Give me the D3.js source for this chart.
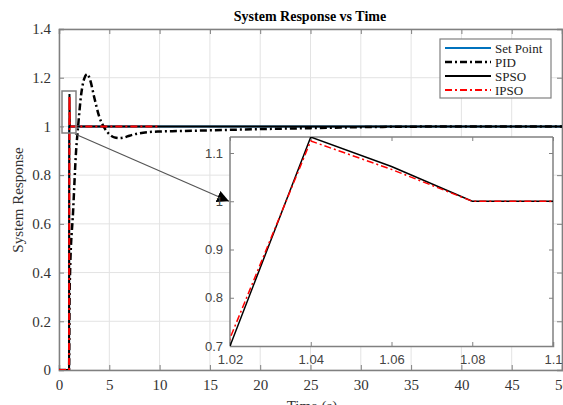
<!doctype html>
<html>
<head>
<meta charset="utf-8">
<script src="https://cdn.jsdelivr.net/npm/d3@7"></script>
<style>
  body { margin: 0; background: #fff; }
  svg { display: block; }
</style>
</head>
<body>
<svg id="chart" width="563" height="405"></svg>
<script>
// ---- data ----
var xTicks = [0, 5, 10, 15, 20, 25, 30, 35, 40, 45, 50];
var yTicks = [0, 0.2, 0.4, 0.6, 0.8, 1, 1.2, 1.4];
var insetXTicks = [1.02, 1.04, 1.06, 1.08, 1.1];
var insetYTicks = [0.7, 0.8, 0.9, 1, 1.1];

var setTime = [0, 1, 1, 50];
var setVal  = [0, 0, 1, 1];

var pidTime = [0, 1, 1.05, 1.1, 1.4, 1.7, 1.9, 2.2, 2.5, 2.8, 3.1, 3.5, 4.0, 4.5, 5.0, 5.5, 6.0, 6.5, 7.0, 8.0, 9.0, 10, 12, 15, 20, 25, 30, 35, 40, 50];
var pidVal  = [0, 0, 0.3, 0.4, 0.65, 0.9, 1.0, 1.13, 1.195, 1.215, 1.19, 1.12, 1.04, 0.995, 0.968, 0.955, 0.952, 0.955, 0.962, 0.972, 0.977, 0.979, 0.981, 0.984, 0.989, 0.993, 0.997, 0.999, 1.0, 1.0];

var spsoTime = [0, 1.0, 1.02, 1.04, 1.06, 1.08, 1.1, 50];
var spsoVal  = [0, 0, 0.7, 1.133, 1.072, 1.0, 1.0, 1.0];

var ipsoTime = [0, 1.0, 1.02, 1.04, 1.06, 1.08, 1.1, 10];
var ipsoVal  = [0, 0, 0.716, 1.125, 1.066, 1.0, 1.0, 1.0];

var legendNames = ["Set Point", "PID", "SPSO", "IPSO"];

function pairs(t, v) { return t.map(function(d, i) { return [d, v[i]]; }); }

var series = [
  { name: "Set Point", data: pairs(setTime, setVal), color: "#0072bd", dash: null, width: 2 },
  { name: "PID", data: pairs(pidTime, pidVal), color: "#000", dash: "7,3,2,3", width: 2.5, smooth: true },
  { name: "SPSO", data: pairs(spsoTime, spsoVal), color: "#000", dash: null, width: 2 },
  { name: "IPSO", data: pairs(ipsoTime, ipsoVal), color: "#ff0000", dash: "7,3,2,3", width: 2 }
];

var svg = d3.select("#chart");
var serif = "'Liberation Serif', 'Times New Roman', serif";
var sans = "'Liberation Sans', Arial, sans-serif";
var axisCol = "#808080";
var gridCol = "#e3e3e3";

// main axes box
var mLeft = 59, mRight = 562, mTop = 29, mBottom = 370;
var x = d3.scaleLinear().domain([0, 50]).range([mLeft, mRight]);
var y = d3.scaleLinear().domain([0, 1.4]).range([mBottom, mTop]);

svg.append("rect").attr("x", mLeft).attr("y", mTop)
   .attr("width", mRight - mLeft).attr("height", mBottom - mTop).attr("fill", "#fff");

// grid
svg.append("g").selectAll("line").data(xTicks).enter().append("line")
   .attr("x1", function(d) { return x(d); }).attr("x2", function(d) { return x(d); })
   .attr("y1", mTop).attr("y2", mBottom).attr("stroke", gridCol).attr("stroke-width", 1);
svg.append("g").selectAll("line").data(yTicks).enter().append("line")
   .attr("y1", function(d) { return y(d); }).attr("y2", function(d) { return y(d); })
   .attr("x1", mLeft).attr("x2", mRight).attr("stroke", gridCol).attr("stroke-width", 1);

// axes (ticks inward)
var xAxisB = d3.axisBottom(x).tickValues(xTicks).tickSize(-5).tickPadding(9).tickFormat(d3.format("d"));
var yAxisL = d3.axisLeft(y).tickValues(yTicks).tickSize(-5).tickPadding(8).tickFormat(function(d) { return String(+d.toFixed(1)); });

var gx = svg.append("g").attr("transform", "translate(0," + mBottom + ")").call(xAxisB);
var gy = svg.append("g").attr("transform", "translate(" + mLeft + ",0)").call(yAxisL);
svg.append("g").attr("transform", "translate(0," + mTop + ")")
   .call(d3.axisTop(x).tickValues(xTicks).tickSize(-5).tickFormat(""));
svg.append("g").attr("transform", "translate(" + mRight + ",0)")
   .call(d3.axisRight(y).tickValues(yTicks).tickSize(-5).tickFormat(""));

svg.selectAll(".domain").attr("stroke", axisCol).attr("stroke-width", 1.5);
svg.selectAll(".tick line").attr("stroke", axisCol);
[gx, gy].forEach(function(g) {
  g.selectAll("text").attr("font-family", serif).attr("font-size", 15).attr("fill", "#333");
});

// clip for main plot
svg.append("clipPath").attr("id", "mainClip").append("rect")
   .attr("x", mLeft).attr("y", mTop).attr("width", mRight - mLeft).attr("height", mBottom - mTop);

var line = d3.line().x(function(d) { return x(d[0]); }).y(function(d) { return y(d[1]); });
var lineSmooth = d3.line().curve(d3.curveMonotoneX).x(function(d) { return x(d[0]); }).y(function(d) { return y(d[1]); });

var plot = svg.append("g").attr("clip-path", "url(#mainClip)");
series.forEach(function(s) {
  plot.append("path").datum(s.data)
    .attr("d", s.smooth ? lineSmooth : line)
    .attr("fill", "none").attr("stroke", s.color)
    .attr("stroke-width", s.width)
    .attr("stroke-dasharray", s.dash);
});

// title and labels
svg.append("text").attr("x", 310).attr("y", 21).attr("text-anchor", "middle")
   .attr("font-family", serif).attr("font-weight", "bold").attr("font-size", 14)
   .text("System Response vs Time");
svg.append("text").attr("transform", "translate(23,200) rotate(-90)").attr("text-anchor", "middle")
   .attr("font-family", serif).attr("font-size", 15).attr("fill", "#333").text("System Response");
svg.append("text").attr("x", 312).attr("y", 411).attr("text-anchor", "middle")
   .attr("font-family", serif).attr("font-size", 15).attr("fill", "#333").text("Time (s)");

// zoom box
svg.append("rect").attr("x", 62).attr("y", 91).attr("width", 14).attr("height", 42)
   .attr("fill", "none").attr("stroke", axisCol).attr("stroke-width", 1.5);

// inset axes
var iLeft = 230, iRight = 553, iTop = 137, iBottom = 346;
var ix = d3.scaleLinear().domain([1.02, 1.1]).range([iLeft, iRight]);
var iy = d3.scaleLinear().domain([0.7, 1.1]).range([iBottom, 153]);

svg.append("defs").append("marker").attr("id", "arrow")
   .attr("viewBox", "0 0 10 10").attr("refX", 10).attr("refY", 5)
   .attr("markerWidth", 12).attr("markerHeight", 12).attr("markerUnits", "userSpaceOnUse")
   .attr("orient", "auto")
   .append("path").attr("d", "M0,0 L10,5 L0,10 z").attr("fill", "#000");
svg.append("line").attr("x1", 75).attr("y1", 134).attr("x2", iLeft - 1).attr("y2", iy(1))
   .attr("stroke", "#555").attr("stroke-width", 1.2).attr("marker-end", "url(#arrow)");

svg.append("rect").attr("x", iLeft).attr("y", iTop)
   .attr("width", iRight - iLeft).attr("height", iBottom - iTop).attr("fill", "#fff");

var ixAxis = svg.append("g").attr("transform", "translate(0," + iBottom + ")")
   .call(d3.axisBottom(ix).tickValues(insetXTicks).tickSize(-4).tickPadding(9)
     .tickFormat(function(d) { return String(+d.toFixed(2)); }));
var iyAxis = svg.append("g").attr("transform", "translate(" + iLeft + ",0)")
   .call(d3.axisLeft(iy).tickValues(insetYTicks).tickSize(-4).tickPadding(7)
     .tickFormat(function(d) { return String(+d.toFixed(1)); }));
var ixTop = svg.append("g").attr("transform", "translate(0," + iTop + ")")
   .call(d3.axisTop(ix).tickValues(insetXTicks).tickSize(-4).tickFormat(""));
var iyRight = svg.append("g").attr("transform", "translate(" + iRight + ",0)")
   .call(d3.axisRight(iy).tickValues(insetYTicks).tickSize(-4).tickFormat(""));

[ixAxis, iyAxis, ixTop, iyRight].forEach(function(g) {
  g.selectAll(".domain").attr("stroke", axisCol).attr("stroke-width", 1.5);
  g.selectAll(".tick line").attr("stroke", axisCol);
  g.selectAll("text").attr("font-family", sans).attr("font-size", 13).attr("fill", "#444");
});
// inset frame spans the whole box
ixTop.select(".domain").attr("d", "M" + iLeft + ",0H" + iRight);
iyAxis.select(".domain").attr("d", "M0," + iTop + "V" + iBottom);
iyRight.select(".domain").attr("d", "M0," + iTop + "V" + iBottom);

svg.append("clipPath").attr("id", "insetClip").append("rect")
   .attr("x", iLeft).attr("y", iTop).attr("width", iRight - iLeft).attr("height", iBottom - iTop);

var iline = d3.line().x(function(d) { return ix(d[0]); }).y(function(d) { return iy(d[1]); });
var inset = svg.append("g").attr("clip-path", "url(#insetClip)");
series.filter(function(s) { return s.name === "SPSO" || s.name === "IPSO"; }).forEach(function(s) {
  inset.append("path").datum(s.data)
    .attr("d", iline)
    .attr("fill", "none").attr("stroke", s.color)
    .attr("stroke-width", 1.5)
    .attr("stroke-dasharray", s.dash);
});

// legend
var lg = svg.append("g");
lg.append("rect").attr("x", 440).attr("y", 39).attr("width", 111).attr("height", 59)
  .attr("fill", "#fff").attr("stroke", axisCol).attr("stroke-width", 1.2);
series.forEach(function(s, i) {
  var yy = 48 + i * 14;
  lg.append("line").attr("x1", 445).attr("x2", 491).attr("y1", yy).attr("y2", yy)
    .attr("stroke", s.color).attr("stroke-width", s.width).attr("stroke-dasharray", s.dash);
  lg.append("text").attr("x", 495).attr("y", yy + 4.5).attr("font-family", serif)
    .attr("font-size", 13).attr("fill", "#222").text(legendNames[i]);
});
</script>
</body>
</html>
